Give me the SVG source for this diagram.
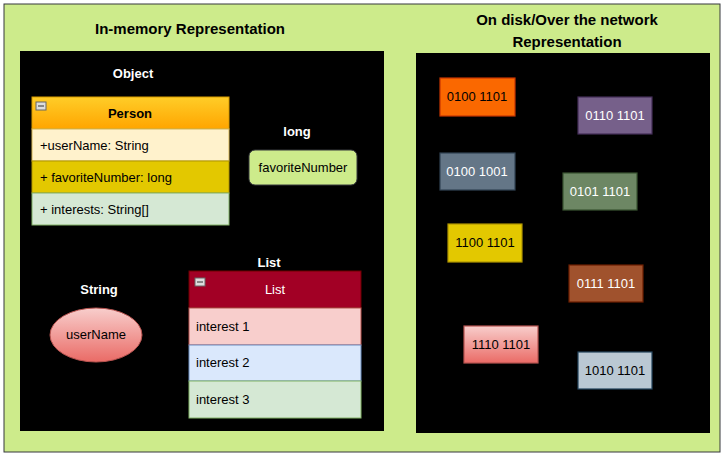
<svg xmlns="http://www.w3.org/2000/svg" width="726" height="458" viewBox="0 0 726 458">
<defs>
<style>
text{font-family:"Liberation Sans",Arial,sans-serif;font-size:13px}
.b{font-weight:bold}
.w{fill:#fff}
.t{font-size:15px;font-weight:bold;fill:#000}
.bin rect{stroke-width:1.2}
</style>
<linearGradient id="og" x1="0" y1="0" x2="0" y2="1"><stop offset="0" stop-color="#ffcd28"/><stop offset="1" stop-color="#ffa500"/></linearGradient>
<linearGradient id="rg" x1="0" y1="0" x2="0" y2="1"><stop offset="0" stop-color="#f8cecc"/><stop offset="1" stop-color="#ea6b66"/></linearGradient>
</defs>
<rect x="4" y="4" width="716" height="448" fill="#cdeb8b" stroke="#36393d"/>
<text class="t" x="190" y="34" text-anchor="middle">In-memory Representation</text>
<text class="t" x="567" y="25" text-anchor="middle">On disk/Over the network</text>
<text class="t" x="567" y="47" text-anchor="middle">Representation</text>
<rect x="20" y="51" width="364" height="380" fill="#000"/>
<rect x="416" y="53" width="294" height="380" fill="#000"/>
<text class="b w" x="133" y="78" text-anchor="middle">Object</text>
<text class="b w" x="297" y="136" text-anchor="middle">long</text>
<text class="b w" x="269" y="267" text-anchor="middle">List</text>
<text class="b w" x="99" y="294" text-anchor="middle">String</text>
<g id="person">
<rect x="32" y="97" width="197" height="32" fill="url(#og)" stroke="#d79b00"/>
<rect x="36" y="102" width="10" height="8" fill="#ddd" stroke="#666"/><line x1="38" y1="106" x2="44" y2="106" stroke="#333"/>
<text class="b" x="130" y="118" text-anchor="middle">Person</text>
<rect x="32" y="129" width="197" height="32" fill="#fff2cc" stroke="#d6b656"/>
<text x="40" y="150">+userName: String</text>
<rect x="32" y="161" width="197" height="32" fill="#e3c800" stroke="#b09500"/>
<text x="40" y="182">+ favoriteNumber: long</text>
<rect x="32" y="193" width="197" height="32" fill="#d5e8d4" stroke="#82b366"/>
<text x="40" y="214">+ interests: String[]</text>
</g>
<g id="favoriteNumber">
<rect x="249" y="150" width="108" height="35" rx="6" fill="#cdeb8b" stroke="#36393d"/>
<text x="303" y="172" text-anchor="middle">favoriteNumber</text>
</g>
<g id="list">
<rect x="189" y="271" width="172" height="37" fill="#a20025" stroke="#6f0000"/>
<rect x="195" y="278" width="10" height="8" fill="#ddd" stroke="#666"/><line x1="197" y1="282" x2="203" y2="282" stroke="#333"/>
<text class="w" x="275" y="294" text-anchor="middle">List</text>
<rect x="189" y="308" width="172" height="37" fill="#f8cecc" stroke="#b85450"/>
<text x="196" y="331">interest 1</text>
<rect x="189" y="345" width="172" height="36" fill="#dae8fc" stroke="#6c8ebf"/>
<text x="196" y="367">interest 2</text>
<rect x="189" y="381" width="172" height="37" fill="#d5e8d4" stroke="#82b366"/>
<text x="196" y="404">interest 3</text>
</g>
<g id="userName">
<ellipse cx="96" cy="335" rx="46" ry="27" fill="url(#rg)" stroke="#b85450"/>
<text x="96" y="339" text-anchor="middle">userName</text>
</g>
<g id="bin1" class="bin"><rect x="440" y="78" width="75" height="38" fill="#fa6800" stroke="#c73500"/><text x="477" y="101" text-anchor="middle">0100 1101</text></g>
<g id="bin2" class="bin"><rect x="578" y="97" width="74" height="37" fill="#76608a" stroke="#432d57"/><text class="w" x="615" y="120" text-anchor="middle">0110 1101</text></g>
<g id="bin3" class="bin"><rect x="440" y="153" width="75" height="37" fill="#647687" stroke="#314354"/><text class="w" x="477" y="176" text-anchor="middle">0100 1001</text></g>
<g id="bin4" class="bin"><rect x="563" y="173" width="74" height="37" fill="#6d8764" stroke="#3a5431"/><text class="w" x="600" y="196" text-anchor="middle">0101 1101</text></g>
<g id="bin5" class="bin"><rect x="448" y="224" width="74" height="38" fill="#e3c800" stroke="#b09500"/><text x="485" y="247" text-anchor="middle">1100 1101</text></g>
<g id="bin6" class="bin"><rect x="569" y="265" width="74" height="37" fill="#a0522d" stroke="#6d1f00"/><text class="w" x="606" y="288" text-anchor="middle">0111 1101</text></g>
<g id="bin7" class="bin"><rect x="464" y="326" width="74" height="37" fill="url(#rg)" stroke="#b85450"/><text x="501" y="349" text-anchor="middle">1110 1101</text></g>
<g id="bin8" class="bin"><rect x="578" y="352" width="74" height="37" fill="#bac8d3" stroke="#23445d"/><text x="615" y="375" text-anchor="middle">1010 1101</text></g>
<g id="connectors"/>
</svg>
